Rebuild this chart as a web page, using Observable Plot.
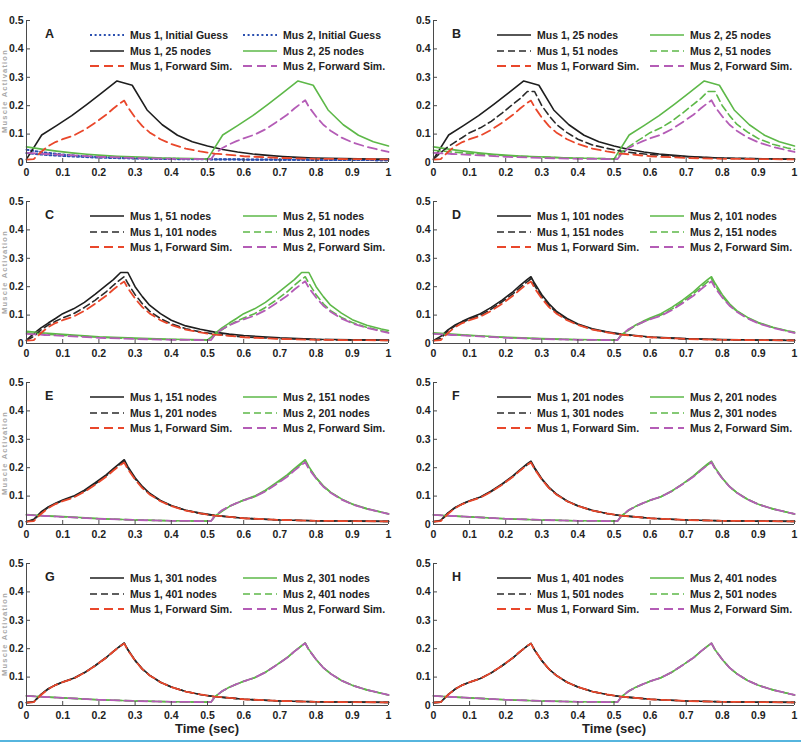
<!DOCTYPE html>
<html><head><meta charset="utf-8">
<script src="https://cdn.jsdelivr.net/npm/d3@7"></script>
<script src="https://cdn.jsdelivr.net/npm/@observablehq/plot@0.6"></script>
<style>
body{margin:0;background:#fff;}
#root{position:relative;width:801px;height:744px;overflow:hidden;font-family:"Liberation Sans",Arial,sans-serif;background:#fff;}
.panel{position:absolute;}
.leg{position:absolute;display:flex;align-items:center;height:12px;font-weight:bold;font-size:10.5px;color:#222;white-space:nowrap;}
.leg span{margin-left:6px;}
.letter{position:absolute;font-weight:bold;font-size:12.5px;color:#222;}
.xlab{position:absolute;text-align:center;font-weight:bold;font-size:13px;line-height:14px;height:14px;color:#222;}
.ylab{position:absolute;width:112px;height:8px;line-height:8px;text-align:center;font-weight:bold;font-size:7.5px;letter-spacing:1.2px;color:#a8a8a8;transform:rotate(-90deg);white-space:nowrap;}
.cyan{position:absolute;left:0;top:740px;width:801px;height:2px;background:#56b5de;}
</style></head><body><div id="root"></div><script>
// ---------- data ----------
const yTicks = [0, 0.1, 0.2, 0.3, 0.4, 0.5];
const xTicks = [0, 0.1, 0.2, 0.3, 0.4, 0.5, 0.6, 0.7, 0.8, 0.9, 1];
const panelLetters = ["A", "B", "C", "D", "E", "F", "G", "H"];
const xAxisTitle = "Time (sec)";
const yAxisTitle = "Muscle Activation";

// time grids
const tA = [0, 0.02, 0.04, 0.06, 0.08, 0.1, 0.13, 0.16, 0.19, 0.22, 0.24, 0.26, 0.27, 0.28, 0.3, 0.32, 0.34, 0.37, 0.4, 0.44, 0.48, 0.52, 0.56, 0.6, 0.7, 0.8, 0.9, 1.0];
const tB = [0, 0.05, 0.1, 0.2, 0.3, 0.4, 0.5, 0.51, 0.52, 0.54, 0.56, 0.58, 0.6, 0.63, 0.66, 0.69, 0.72, 0.74, 0.76, 0.77, 0.78, 0.8, 0.82, 0.84, 0.87, 0.9, 0.94, 0.98, 1.0];
const t25 = [0, 0.042, 0.083, 0.125, 0.167, 0.208, 0.25, 0.292, 0.333, 0.375, 0.417, 0.458, 0.5, 0.542, 0.583, 0.625, 0.667, 0.708, 0.75, 0.792, 0.833, 0.875, 0.917, 0.958, 1];
const tIG = [0, 0.05, 0.1, 0.15, 0.2, 0.3, 0.4, 0.5, 0.6, 0.7, 0.8, 0.9, 1];

// Muscle 1 (on tA unless noted)
const ig1   = [0.045, 0.035, 0.028, 0.023, 0.02, 0.015, 0.013, 0.012, 0.011, 0.01, 0.009, 0.009, 0.008];
const n25_1 = [0.012, 0.097, 0.13, 0.165, 0.205, 0.245, 0.287, 0.272, 0.185, 0.133, 0.096, 0.073, 0.058, 0.046, 0.037, 0.03, 0.025, 0.021, 0.018, 0.016, 0.015, 0.014, 0.013, 0.012, 0.012];
const n51_1  = [0.012, 0.035, 0.055, 0.072, 0.088, 0.105, 0.122, 0.145, 0.174, 0.205, 0.225, 0.25, 0.25, 0.25, 0.2, 0.165, 0.135, 0.105, 0.082, 0.062, 0.05, 0.04, 0.033, 0.028, 0.02, 0.015, 0.013, 0.012];
const n101_1 = [0.011, 0.025, 0.048, 0.065, 0.078, 0.09, 0.105, 0.127, 0.153, 0.182, 0.205, 0.226, 0.235, 0.212, 0.172, 0.14, 0.114, 0.088, 0.069, 0.052, 0.041, 0.033, 0.028, 0.023, 0.017, 0.014, 0.012, 0.011];
const n151_1 = [0.01, 0.018, 0.044, 0.062, 0.075, 0.086, 0.1, 0.121, 0.147, 0.175, 0.197, 0.218, 0.228, 0.204, 0.165, 0.134, 0.11, 0.085, 0.067, 0.05, 0.04, 0.032, 0.027, 0.022, 0.016, 0.013, 0.012, 0.011];
const n201_1 = [0.01, 0.015, 0.041, 0.06, 0.073, 0.084, 0.097, 0.118, 0.143, 0.171, 0.193, 0.214, 0.223, 0.2, 0.161, 0.131, 0.108, 0.083, 0.066, 0.05, 0.039, 0.031, 0.027, 0.022, 0.016, 0.013, 0.012, 0.011];
const n301_1 = [0.01, 0.013, 0.039, 0.059, 0.072, 0.083, 0.096, 0.116, 0.141, 0.169, 0.191, 0.211, 0.22, 0.197, 0.159, 0.129, 0.107, 0.082, 0.065, 0.049, 0.039, 0.031, 0.027, 0.022, 0.016, 0.013, 0.012, 0.011];
const n401_1 = [0.01, 0.012, 0.038, 0.058, 0.072, 0.082, 0.095, 0.115, 0.14, 0.168, 0.19, 0.21, 0.219, 0.196, 0.158, 0.128, 0.106, 0.082, 0.065, 0.049, 0.039, 0.031, 0.027, 0.022, 0.016, 0.013, 0.012, 0.011];
const n501_1 = [0.01, 0.012, 0.037, 0.058, 0.072, 0.082, 0.095, 0.115, 0.14, 0.168, 0.19, 0.21, 0.218, 0.195, 0.158, 0.128, 0.106, 0.082, 0.065, 0.049, 0.039, 0.031, 0.027, 0.022, 0.016, 0.013, 0.012, 0.011];
const fs1    = [0.01, 0.012, 0.037, 0.058, 0.072, 0.082, 0.095, 0.115, 0.14, 0.168, 0.19, 0.21, 0.218, 0.195, 0.158, 0.128, 0.106, 0.082, 0.065, 0.049, 0.039, 0.031, 0.027, 0.022, 0.016, 0.013, 0.012, 0.011];

// Muscle 2 (on tB unless noted)
const ig2   = [0.033, 0.027, 0.023, 0.02, 0.017, 0.014, 0.012, 0.011, 0.01, 0.01, 0.009, 0.009, 0.008];
const n25_2 = [0.055, 0.047, 0.04, 0.034, 0.029, 0.025, 0.022, 0.02, 0.018, 0.016, 0.015, 0.014, 0.012, 0.097, 0.13, 0.165, 0.205, 0.245, 0.287, 0.272, 0.185, 0.133, 0.096, 0.073, 0.058];
const n51_2  = [0.043, 0.037, 0.032, 0.024, 0.019, 0.015, 0.013, 0.022, 0.035, 0.055, 0.072, 0.088, 0.105, 0.122, 0.145, 0.174, 0.205, 0.225, 0.25, 0.25, 0.25, 0.2, 0.165, 0.135, 0.107, 0.084, 0.064, 0.051, 0.046];
const n101_2 = [0.038, 0.033, 0.029, 0.022, 0.017, 0.014, 0.012, 0.014, 0.03, 0.048, 0.065, 0.078, 0.09, 0.105, 0.127, 0.153, 0.182, 0.205, 0.226, 0.235, 0.212, 0.172, 0.14, 0.116, 0.092, 0.074, 0.057, 0.045, 0.04];
const n151_2 = [0.035, 0.031, 0.028, 0.021, 0.016, 0.013, 0.012, 0.013, 0.028, 0.046, 0.063, 0.075, 0.086, 0.1, 0.121, 0.147, 0.175, 0.197, 0.218, 0.228, 0.204, 0.165, 0.136, 0.114, 0.09, 0.072, 0.056, 0.044, 0.038];
const n201_2 = [0.034, 0.03, 0.027, 0.02, 0.016, 0.013, 0.012, 0.012, 0.029, 0.049, 0.064, 0.075, 0.085, 0.098, 0.118, 0.143, 0.171, 0.193, 0.214, 0.223, 0.2, 0.164, 0.134, 0.113, 0.089, 0.071, 0.055, 0.043, 0.037];
const n301_2 = [0.034, 0.03, 0.027, 0.02, 0.016, 0.013, 0.012, 0.012, 0.03, 0.05, 0.064, 0.075, 0.085, 0.098, 0.117, 0.142, 0.169, 0.191, 0.211, 0.22, 0.197, 0.162, 0.133, 0.112, 0.088, 0.071, 0.055, 0.043, 0.037];
const n401_2 = [0.034, 0.03, 0.027, 0.02, 0.016, 0.013, 0.012, 0.012, 0.03, 0.05, 0.064, 0.075, 0.085, 0.098, 0.117, 0.142, 0.168, 0.19, 0.21, 0.22, 0.196, 0.162, 0.133, 0.112, 0.088, 0.071, 0.055, 0.043, 0.037];
const n501_2 = [0.034, 0.03, 0.027, 0.02, 0.016, 0.013, 0.012, 0.012, 0.03, 0.05, 0.064, 0.075, 0.085, 0.098, 0.117, 0.142, 0.168, 0.19, 0.21, 0.219, 0.196, 0.162, 0.133, 0.112, 0.088, 0.071, 0.055, 0.043, 0.037];
const fs2    = [0.034, 0.03, 0.027, 0.02, 0.016, 0.013, 0.012, 0.012, 0.03, 0.05, 0.064, 0.075, 0.085, 0.098, 0.117, 0.142, 0.168, 0.19, 0.21, 0.219, 0.196, 0.162, 0.133, 0.112, 0.088, 0.071, 0.055, 0.043, 0.037];

const series = {
  ig:   {name: "Initial Guess", t1: tIG, v1: ig1, t2: tIG, v2: ig2},
  n25:  {name: "25 nodes",  t1: t25, v1: n25_1,  t2: t25, v2: n25_2},
  n51:  {name: "51 nodes",  t1: tA, v1: n51_1,  t2: tB, v2: n51_2},
  n101: {name: "101 nodes", t1: tA, v1: n101_1, t2: tB, v2: n101_2},
  n151: {name: "151 nodes", t1: tA, v1: n151_1, t2: tB, v2: n151_2},
  n201: {name: "201 nodes", t1: tA, v1: n201_1, t2: tB, v2: n201_2},
  n301: {name: "301 nodes", t1: tA, v1: n301_1, t2: tB, v2: n301_2},
  n401: {name: "401 nodes", t1: tA, v1: n401_1, t2: tB, v2: n401_2},
  n501: {name: "501 nodes", t1: tA, v1: n501_1, t2: tB, v2: n501_2},
  fs:   {name: "Forward Sim.", t1: tA, v1: fs1, t2: tB, v2: fs2}
};
const panelRow1 = ["ig", "n25", "n51", "n101", "n151", "n201", "n301", "n401"];
const panelRow2 = ["n25", "n51", "n101", "n151", "n201", "n301", "n401", "n501"];

// ---------- styles ----------
const BLACK = "#1e1e1e", GREEN = "#5db848", RED = "#e9472b", MAG = "#b45cb6", BLUE = "#2a4fb0";
const styles = {
  dotted1: {stroke: BLUE, strokeWidth: 2, dash: "2,2.6"},
  dotted2: {stroke: BLUE, strokeWidth: 2, dash: "2,2.6"},
  solid1: {stroke: BLACK, strokeWidth: 1.6, dash: null},
  solid2: {stroke: GREEN, strokeWidth: 1.6, dash: null},
  dashed1: {stroke: "#2a2a2a", strokeWidth: 1.6, dash: "7,4"},
  dashed2: {stroke: GREEN, strokeWidth: 1.6, dash: "7,4"},
  fs1: {stroke: RED, strokeWidth: 1.8, dash: "9,5"},
  fs2: {stroke: MAG, strokeWidth: 1.8, dash: "9,5"}
};

const cols = [{left: 0, width: 400, ml: 26, mr: 12}, {left: 400, width: 401, ml: 33, mr: 7}];
const rowTops = [20, 201, 382, 563];
const plotH = 142, mt = 12;
const fmt = d => (d === 0 || d === 1) ? String(d) : d.toFixed(1);
const root = document.getElementById("root");

function pts(t, v) { return t.map((x, i) => ({t: x, v: v[i]})); }
function lineMark(t, v, st) {
  const o = {x: "t", y: "v", stroke: st.stroke, strokeWidth: st.strokeWidth, strokeLinejoin: "round"};
  if (st.dash) o.strokeDasharray = st.dash;
  return Plot.line(pts(t, v), o);
}
function swatch(st) {
  const ns = "http://www.w3.org/2000/svg";
  const s = document.createElementNS(ns, "svg");
  s.setAttribute("width", 34); s.setAttribute("height", 8);
  const l = document.createElementNS(ns, "line");
  l.setAttribute("x1", 0); l.setAttribute("x2", 34); l.setAttribute("y1", 4); l.setAttribute("y2", 4);
  l.setAttribute("stroke", st.stroke); l.setAttribute("stroke-width", st.strokeWidth);
  if (st.dash) l.setAttribute("stroke-dasharray", st.dash);
  s.appendChild(l);
  return s;
}

for (let i = 0; i < 8; i++) {
  const r = Math.floor(i / 2), c = i % 2, col = cols[c];
  const mb = 27;
  const s1 = series[panelRow1[i]], s2 = series[panelRow2[i]], fs = series.fs;
  const st1a = i === 0 ? styles.dotted1 : styles.solid1;
  const st1b = i === 0 ? styles.dotted2 : styles.solid2;
  const st2a = i === 0 ? styles.solid1 : styles.dashed1;
  const st2b = i === 0 ? styles.solid2 : styles.dashed2;

  const chart = Plot.plot({
    width: col.width, height: mt + plotH + mb,
    marginLeft: col.ml, marginRight: col.mr, marginTop: mt, marginBottom: mb,
    x: {domain: [0, 1]}, y: {domain: [0, 0.5]},
    style: {fontFamily: "'Liberation Sans', Arial, sans-serif", fontSize: "10.5px", fontWeight: "bold", color: "#222", background: "transparent", overflow: "visible"},
    marks: [
      lineMark(s1.t1, s1.v1, st1a),
      lineMark(s1.t2, s1.v2, st1b),
      lineMark(s2.t1, s2.v1, st2a),
      lineMark(s2.t2, s2.v2, st2b),
      lineMark(fs.t2, fs.v2, styles.fs2),
      lineMark(fs.t1, fs.v1, styles.fs1),
      Plot.ruleX([0], {stroke: "#4a4a4a"}),
      Plot.ruleY([0], {stroke: "#4a4a4a"}),
      Plot.axisY({ticks: yTicks, tickSize: -4, tickPadding: 7, tickFormat: fmt, label: null, stroke: "#4a4a4a"}),
      Plot.axisX({ticks: xTicks, tickSize: -4, tickPadding: 10, tickFormat: fmt, label: null, stroke: "#4a4a4a"})
    ]
  });
  chart.classList.add("panel");
  chart.style.left = col.left + "px";
  chart.style.top = (rowTops[r] - mt) + "px";
  chart.style.position = "absolute";
  root.appendChild(chart);

  const x0 = col.left + col.ml, y0 = rowTops[r];
  // panel letter
  const L = document.createElement("div");
  L.className = "letter"; L.textContent = panelLetters[i];
  L.style.left = (x0 + 19) + "px"; L.style.top = (y0 + 7) + "px";
  root.appendChild(L);
  // legend
  const legRows = [
    [["Mus 1, " + s1.name, st1a], ["Mus 2, " + s1.name, st1b]],
    [["Mus 1, " + s2.name, st2a], ["Mus 2, " + s2.name, st2b]],
    [["Mus 1, " + fs.name, styles.fs1], ["Mus 2, " + fs.name, styles.fs2]]
  ];
  legRows.forEach((row, k) => {
    row.forEach(([label, st], j) => {
      const d = document.createElement("div");
      d.className = "leg";
      d.style.left = (x0 + (j === 0 ? 64 : 217)) + "px";
      d.style.top = (y0 + 15 + k * 15.5 - 6) + "px";
      d.appendChild(swatch(st));
      const sp = document.createElement("span"); sp.textContent = label;
      d.appendChild(sp);
      root.appendChild(d);
    });
  });
  // faint y-axis title squeezed against the left edge
  if (c === 0) {
    const y = document.createElement("div");
    y.className = "ylab"; y.textContent = yAxisTitle;
    y.style.left = (5 - 56) + "px"; y.style.top = (y0 + 71 - 4) + "px";
    root.appendChild(y);
  }
  // x-axis title below bottom row
  if (r === 3) {
    const xl = document.createElement("div");
    xl.className = "xlab"; xl.textContent = xAxisTitle;
    xl.style.left = x0 + "px"; xl.style.width = "362px"; xl.style.top = "722px";
    root.appendChild(xl);
  }
}
const cy = document.createElement("div"); cy.className = "cyan"; root.appendChild(cy);
</script></body></html>
